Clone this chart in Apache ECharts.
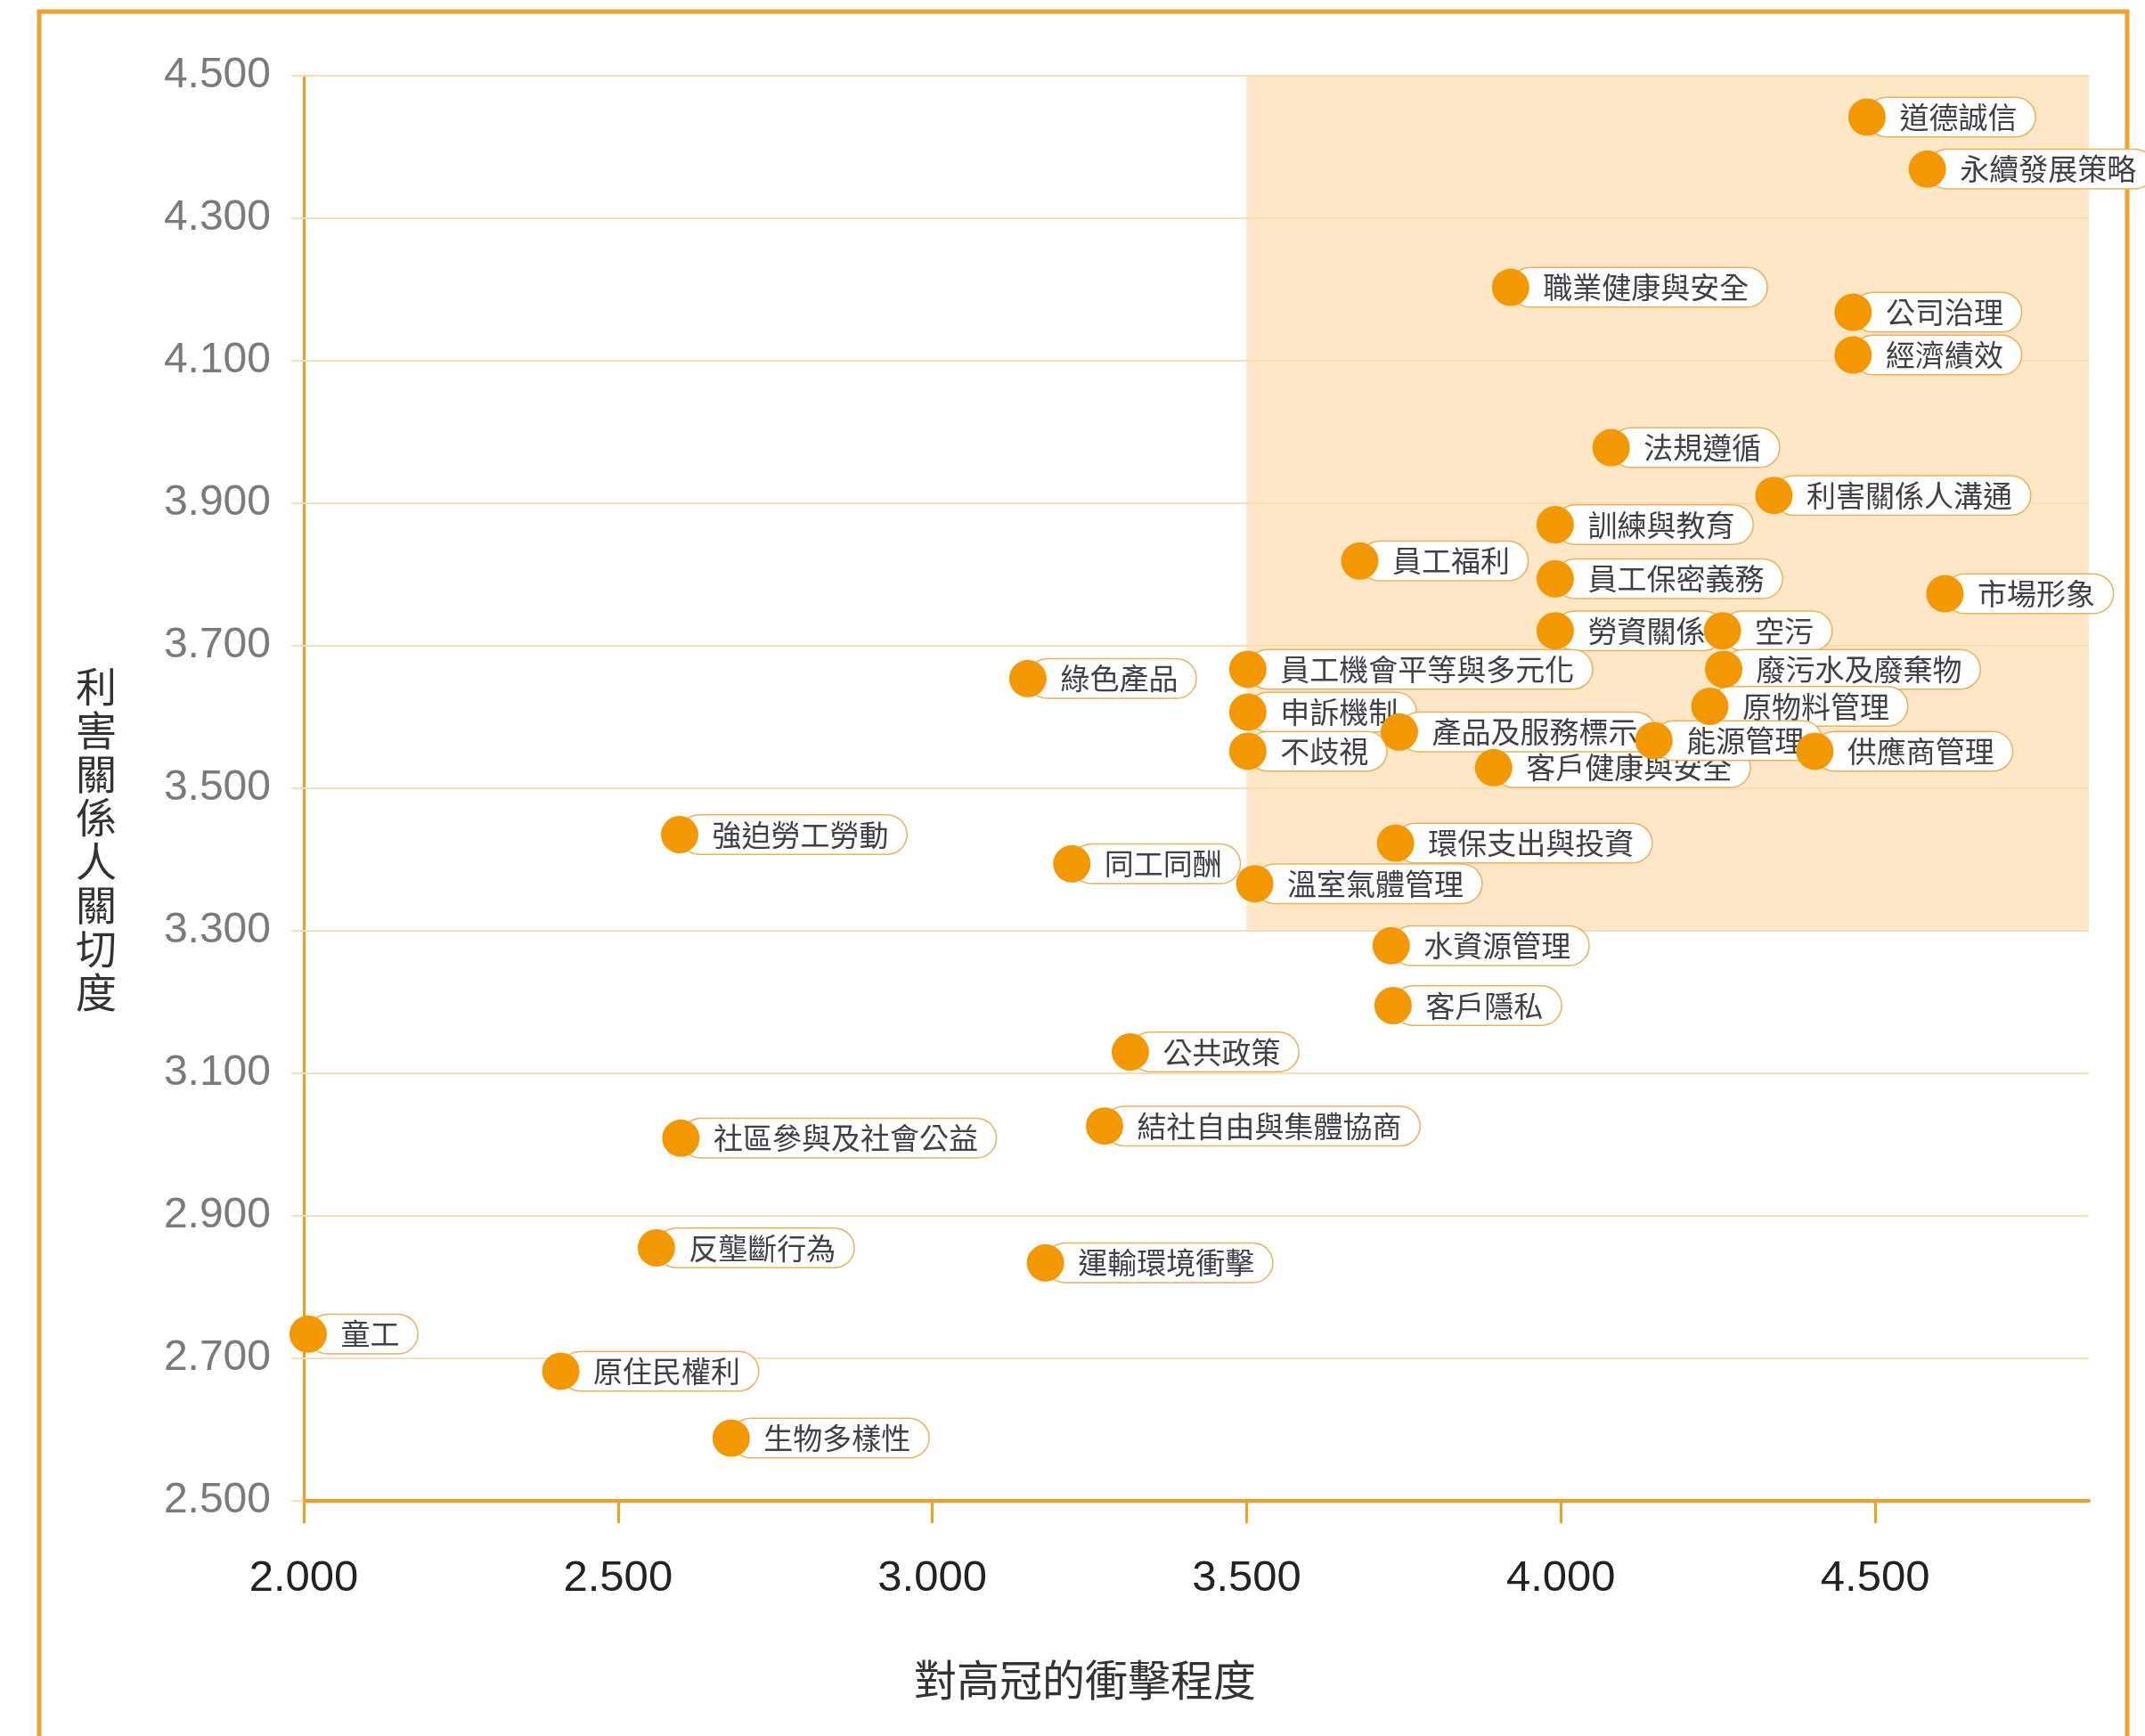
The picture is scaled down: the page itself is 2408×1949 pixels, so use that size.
<!DOCTYPE html>
<html>
<head>
<meta charset="utf-8">
<script src="https://cdn.jsdelivr.net/npm/echarts@6/dist/echarts.min.js"></script>
<style>
html,body{margin:0;padding:0;background:#ffffff;}
#chart{width:2408px;height:1949px;}
</style>
</head>
<body>
<div id="chart"></div>
<script>
// ---- data ----
const topics = ['道德誠信','永續發展策略','職業健康與安全','公司治理','經濟績效','法規遵循','利害關係人溝通','訓練與教育','員工福利','員工保密義務','市場形象','勞資關係','空污','員工機會平等與多元化','廢污水及廢棄物','綠色產品','原物料管理','申訴機制','客戶健康與安全','產品及服務標示','能源管理','不歧視','供應商管理','強迫勞工勞動','環保支出與投資','同工同酬','溫室氣體管理','水資源管理','客戶隱私','公共政策','結社自由與集體協商','社區參與及社會公益','反壟斷行為','運輸環境衝擊','童工','原住民權利','生物多樣性'];
const impact  = [4.487,4.583,3.920,4.465,4.465,4.080,4.339,3.991,3.680,3.991,4.611,3.991,4.257,3.502,4.259,3.152,4.237,3.502,3.893,3.743,4.148,3.502,4.404,2.598,3.737,3.222,3.513,3.730,3.733,3.315,3.274,2.600,2.561,3.180,2.007,2.409,2.680];
const concern = [4.442,4.369,4.203,4.168,4.108,3.978,3.911,3.870,3.819,3.794,3.773,3.721,3.721,3.667,3.667,3.654,3.615,3.607,3.529,3.579,3.567,3.552,3.552,3.435,3.423,3.394,3.366,3.279,3.195,3.130,3.026,3.009,2.855,2.834,2.734,2.682,2.588];
const xTicks = [2.0, 2.5, 3.0, 3.5, 4.0, 4.5];
const yTicks = [2.5, 2.7, 2.9, 3.1, 3.3, 3.5, 3.7, 3.9, 4.1, 4.3, 4.5];
const xMin = 2.0, xMax = 4.84, yMin = 2.5, yMax = 4.5;
const highlightFrom = [3.5, 3.3];   // shaded zone lower-left corner (x, y)
const xTitle = '對高冠的衝擊程度';
const yTitle = '利害關係人關切度';

// ---- styling ----
const ORANGE = '#F39800';
const AXIS = '#F29A22';
const GRID = '#F5DDB6';
const CJK = '"Noto Sans CJK TC", "Noto Sans CJK SC", sans-serif';

const pts = topics.map((n, i) => ({ name: n, value: [impact[i], concern[i]] }));

const chart = echarts.init(document.getElementById('chart'), null, { renderer: 'canvas' });
chart.setOption({
  backgroundColor: '#ffffff',
  animation: false,
  grid: { left: 341, right: 63, top: 85, bottom: 264, containLabel: false, outerBoundsMode: 'none' },
  xAxis: {
    type: 'value', min: xMin, max: xMax, interval: 0.5,
    name: xTitle, nameLocation: 'middle', nameGap: 177,
    nameTextStyle: { fontFamily: CJK, fontSize: 48, color: '#333333', padding: [0, 250, 0, 0] },
    axisLine: { show: true, onZero: false, lineStyle: { color: AXIS, width: 4 } },
    axisTick: { show: true, customValues: xTicks, length: 25, lineStyle: { color: '#EFA21E', width: 3 } },
    axisLabel: { customValues: xTicks, formatter: v => Number(v).toFixed(3), fontFamily: '"Liberation Sans", Arial, sans-serif', fontSize: 49, color: '#222222', margin: 63 },
    splitLine: { show: false }
  },
  yAxis: {
    type: 'value', min: yMin, max: yMax,
    axisLine: { show: true, onZero: false, lineStyle: { color: AXIS, width: 3 } },
    axisTick: { show: true, customValues: yTicks, length: 14, lineStyle: { color: GRID, width: 2 } },
    axisLabel: { customValues: yTicks, formatter: v => Number(v).toFixed(3), fontFamily: '"Liberation Sans", Arial, sans-serif', fontSize: 48, color: '#7A7A7A', margin: 37 },
    splitLine: { show: false }
  },
  graphic: [
    {
      type: 'rect', silent: true, z: -1,
      shape: { x: 44, y: 13, width: 2344, height: 2000 },
      style: { fill: 'none', stroke: '#F0A22C', lineWidth: 5 }
    },
    {
      type: 'text', silent: true, x: 108, y: 942,
      style: {
        text: yTitle.split('').join('\n'),
        font: '46px "Noto Sans CJK TC", "Noto Sans CJK SC", sans-serif',
        lineHeight: 49, fill: '#333333',
        align: 'center', verticalAlign: 'middle',
        textAlign: 'center', textVerticalAlign: 'middle'
      }
    }
  ],
  series: [
    {
      name: 'zone', type: 'scatter', data: [], silent: true, z: 1,
      markArea: {
        silent: true, z: 1,
        itemStyle: { color: 'rgba(251,201,129,0.45)' },
        data: [[{ xAxis: highlightFrom[0], yAxis: highlightFrom[1] }, { xAxis: xMax, yAxis: yMax }]]
      },
      markLine: {
        silent: true, z: 1, symbol: 'none', animation: false,
        label: { show: false },
        lineStyle: { color: GRID, width: 2, type: 'solid' },
        data: yTicks.filter(v => v > yMin).map(v => ({ yAxis: v }))
      }
    },
    {
      name: 'labels', type: 'scatter', data: pts, z: 2, silent: true,
      symbolSize: 1, itemStyle: { color: 'rgba(0,0,0,0)', opacity: 1 },
      emphasis: { disabled: true },
      label: {
        show: true, position: 'right', distance: 0,
        formatter: p => p.name,
        fontFamily: CJK, fontSize: 33, lineHeight: 33, color: '#404048',
        backgroundColor: '#ffffff', borderColor: '#EBB15C', borderWidth: 1.5, borderRadius: 22,
        padding: [5, 20, 5, 36]
      }
    },
    {
      name: 'points', type: 'scatter', data: pts, z: 3, silent: true,
      symbol: 'circle', symbolSize: 42,
      itemStyle: { color: ORANGE, opacity: 1 },
      emphasis: { disabled: true },
      label: { show: false }
    }
  ]
});
</script>
</body>
</html>
